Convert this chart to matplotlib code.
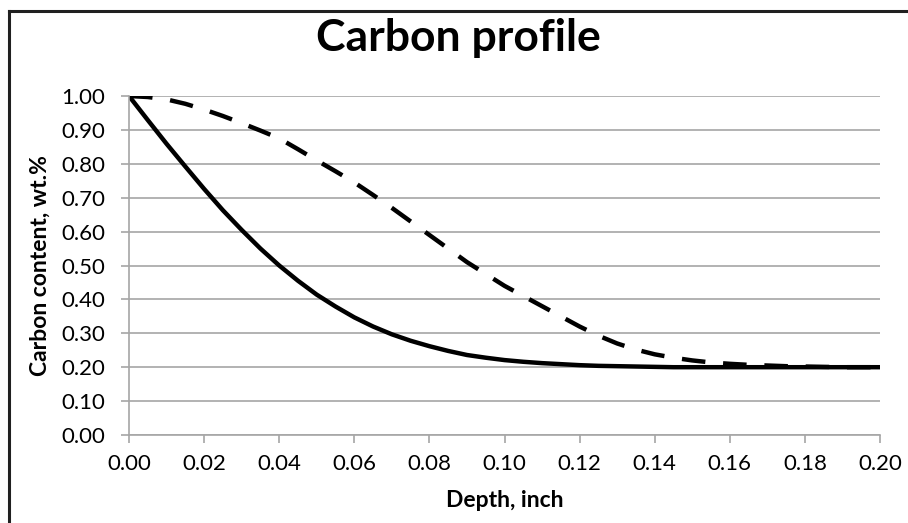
import numpy as np
import matplotlib
matplotlib.use("Agg")
import matplotlib.pyplot as plt
from matplotlib.lines import Line2D

plt.rcParams['font.family'] = ['Lato', 'DejaVu Sans']

# depth, inch
depth = [0.000, 0.005, 0.010, 0.015, 0.020, 0.025, 0.030, 0.035, 0.040, 0.045,
         0.050, 0.055, 0.060, 0.065, 0.070, 0.075, 0.080, 0.085, 0.090, 0.095,
         0.100, 0.105, 0.110, 0.115, 0.120, 0.125, 0.130, 0.135, 0.140, 0.145,
         0.150, 0.155, 0.160, 0.165, 0.170, 0.175, 0.180, 0.185, 0.190, 0.195,
         0.200]

# carbon content, wt.% (solid curve)
carbon_solid = [1.000, 0.929, 0.859, 0.792, 0.726, 0.663, 0.605, 0.550, 0.500, 0.455,
                0.414, 0.379, 0.347, 0.320, 0.297, 0.278, 0.262, 0.248, 0.236, 0.228,
                0.221, 0.216, 0.212, 0.209, 0.206, 0.204, 0.203, 0.202, 0.201, 0.200,
                0.200, 0.200, 0.200, 0.200, 0.200, 0.200, 0.200, 0.200, 0.200, 0.200,
                0.200]

# carbon content, wt.% (dashed curve)
carbon_dashed = [1.000, 0.997, 0.990, 0.977, 0.960, 0.941, 0.920, 0.898, 0.875, 0.843,
                 0.810, 0.778, 0.745, 0.708, 0.670, 0.630, 0.590, 0.550, 0.510, 0.475,
                 0.440, 0.410, 0.380, 0.350, 0.320, 0.293, 0.270, 0.252, 0.238, 0.228,
                 0.220, 0.214, 0.210, 0.207, 0.205, 0.203, 0.202, 0.201, 0.200, 0.200,
                 0.200]

x_ticks = np.arange(0, 0.2001, 0.02)
y_ticks = np.arange(0, 1.0001, 0.1)

grid_col = '#A6A6A6'

fig = plt.figure(figsize=(9.08, 5.23), dpi=100)
ax = fig.add_axes([129/908, 1 - 435/523, (880 - 129)/908, (435 - 96)/523])

ax.plot(depth, carbon_solid, color='black', lw=3.2, solid_capstyle='round')
ax.plot(depth, carbon_dashed, color='black', lw=3.2, linestyle=(0, (5.3, 4.0)))

ax.set_xlim(0, 0.2)
ax.set_ylim(0, 1.0)
ax.set_xticks(x_ticks)
ax.set_yticks(y_ticks)
ax.set_xticklabels(['%.2f' % v for v in x_ticks])
ax.set_yticklabels(['%.2f' % v for v in y_ticks])

ax.yaxis.grid(True, color=grid_col, lw=1.2)
ax.set_axisbelow(True)
for s in ['top', 'right']:
    ax.spines[s].set_visible(False)
for s in ['left', 'bottom']:
    ax.spines[s].set_color(grid_col)
    ax.spines[s].set_linewidth(1.2)

ax.tick_params(axis='both', colors=grid_col, labelcolor='black', labelsize=16,
               length=6, width=1.2, direction='out')
ax.tick_params(axis='y', pad=11)
ax.tick_params(axis='x', pad=8)

ax.set_xlabel('Depth, inch', fontsize=16.5, fontweight='bold', labelpad=11)
ax.set_ylabel('Carbon content, wt.%', fontsize=16.5, fontweight='bold', labelpad=8)
fig.text(458/908, 1 - 38/523, 'Carbon profile', ha='center', va='center',
         fontsize=32, fontweight='bold')

# chart border (only top and left edges are inside the crop)
fig.add_artist(Line2D([9/908, 1], [1 - 11/523, 1 - 11/523], transform=fig.transFigure,
                      color='#202020', lw=2.2))
fig.add_artist(Line2D([9/908, 9/908], [0, 1 - 11/523], transform=fig.transFigure,
                      color='#202020', lw=2.2))

fig.savefig('out.png', dpi=100)
